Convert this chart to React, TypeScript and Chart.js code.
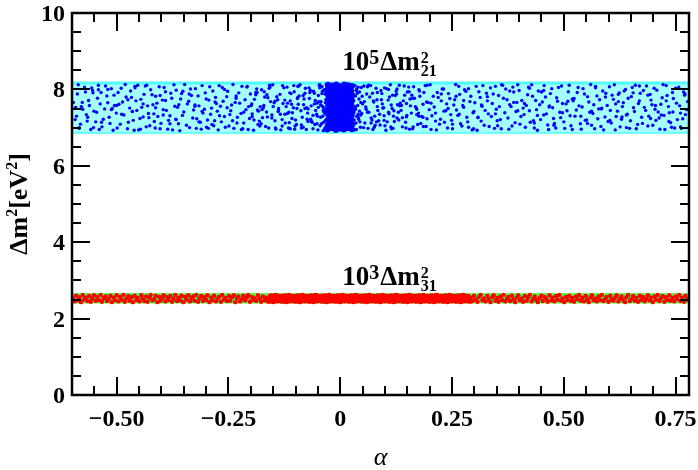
import React, { useEffect, useRef } from 'react';
import { Chart, registerables } from 'chart.js';
Chart.register(...registerables);

const X_MIN = -0.6;
const X_MAX = 0.78;
const Y_MIN = 0;
const Y_MAX = 10;

const xMajorTicks = [-0.5, -0.25, 0, 0.25, 0.5, 0.75];
const xTickLabels = ['−0.50', '−0.25', '0', '0.25', '0.50', '0.75'];
const xMinorTicks = [-0.55, -0.45, -0.4, -0.35, -0.3, -0.2, -0.15, -0.1, -0.05, 0.05, 0.1, 0.15, 0.2, 0.3, 0.35, 0.4, 0.45, 0.55, 0.6, 0.65, 0.7];
const yMajorTicks = [0, 2, 4, 6, 8, 10];
const yTickLabels = ['0', '2', '4', '6', '8', '10'];
const yMinorTicks = [0.5, 1, 1.5, 2.5, 3, 3.5, 4.5, 5, 5.5, 6.5, 7, 7.5, 8.5, 9, 9.5];

// allowed ranges (bands)
const band21 = [6.88, 8.17];
const band31 = [2.41, 2.65];

// 10^5 Δm²21 scatter (alpha, value)
const blueA: number[][] = [
[-0.593,7.21],[-0.588,7.88],[-0.584,6.98],[-0.579,7.55],[-0.572,8.06],[-0.568,7.34],[-0.563,7.71],[-0.558,6.95],[-0.554,7.97],[-0.551,7.43],
[-0.547,7.15],[-0.541,8.11],[-0.537,7.62],[-0.533,7.02],[-0.527,7.49],[-0.522,7.83],[-0.517,7.27],[-0.512,8.02],[-0.508,6.93],[-0.505,7.58],
[-0.501,7.38],[-0.497,7.92],[-0.492,7.09],[-0.487,7.67],[-0.481,8.13],[-0.476,6.97],[-0.471,7.51],[-0.467,7.79],[-0.463,7.19],[-0.459,8.04],
[-0.455,7.45],[-0.451,6.94],[-0.446,7.74],[-0.441,7.28],[-0.436,8.09],[-0.431,7.57],[-0.426,7.05],[-0.421,7.86],[-0.417,7.36],[-0.414,6.99],
[-0.410,7.64],[-0.405,8.07],[-0.401,7.11],[-0.396,7.47],[-0.391,7.94],[-0.386,6.96],[-0.381,7.31],[-0.377,7.77],[-0.372,8.12],[-0.368,7.22],
[-0.364,7.53],[-0.359,6.92],[-0.355,7.89],[-0.350,7.41],[-0.344,7.06],[-0.339,7.69],[-0.335,8.01],[-0.330,7.25],[-0.325,7.59],[-0.322,6.98],
[-0.318,7.83],[-0.313,7.14],[-0.309,8.10],[-0.304,7.48],[-0.299,7.01],[-0.294,7.72],[-0.290,7.35],[-0.285,7.96],[-0.281,7.18],[-0.277,7.63],
[-0.273,6.94],[-0.268,7.56],[-0.264,8.05],[-0.259,7.29],[-0.254,7.81],[-0.249,7.04],[-0.245,7.44],[-0.240,8.13],[-0.235,7.66],[-0.231,7.12],
[-0.227,7.91],[-0.222,7.37],[-0.218,6.97],[-0.213,7.73],[-0.208,8.08],[-0.203,7.24],[-0.199,7.58],[-0.194,6.93],[-0.189,7.86],[-0.185,7.46],
[-0.181,7.17],[-0.176,7.99],[-0.172,7.52],[-0.167,7.03],[-0.162,7.78],[-0.158,8.11],[-0.153,7.33],[-0.148,7.65],[-0.144,6.96],[-0.139,7.42],
[-0.135,7.87],[-0.130,7.21],[-0.126,8.04],[-0.121,7.55],[-0.116,6.99],[-0.112,7.70],[-0.107,7.39],[-0.103,7.94],[-0.098,7.08],[-0.094,7.61],
[-0.090,8.12],[-0.085,7.27],[-0.081,7.75],[-0.076,6.95],[-0.072,7.49],[-0.067,7.98],[-0.063,7.14],[-0.058,7.62],[-0.053,7.35],[-0.049,7.84],
[-0.045,7.05],[-0.043,7.68],[-0.041,8.07],[-0.039,7.30],[-0.037,7.52],[-0.035,6.97],[-0.034,7.88],[-0.033,7.19],[-0.032,7.74],[-0.031,8.13],
[0.031,7.41],[0.032,6.94],[0.034,7.83],[0.035,7.12],[0.037,8.02],[0.039,7.58],[0.041,7.26],[0.043,7.93],[0.045,7.01],[0.046,7.66],
[0.048,7.37],[0.053,8.09],[0.057,7.54],[0.062,6.98],[0.066,7.80],[0.071,7.20],[0.075,7.67],[0.080,8.03],[0.084,7.45],[0.089,7.07],
[0.093,7.89],[0.098,7.31],[0.102,6.93],[0.107,7.72],[0.112,8.12],[0.116,7.50],[0.121,7.16],[0.125,7.96],[0.130,7.40],[0.134,7.64],
[0.139,7.02],[0.144,7.85],[0.148,7.28],[0.153,8.06],[0.157,7.57],[0.162,6.97],[0.166,7.77],[0.171,7.34],[0.176,7.99],[0.180,7.11],
[0.185,7.61],[0.190,8.10],[0.194,7.23],[0.199,7.47],[0.203,6.95],[0.208,7.82],[0.213,7.38],[0.217,7.92],[0.222,7.09],[0.226,7.70],
[0.231,8.01],[0.236,7.44],[0.240,6.99],[0.245,7.76],[0.249,7.19],[0.254,7.59],[0.258,8.13],[0.263,7.32],[0.267,7.87],[0.272,7.04],
[0.276,7.53],[0.281,7.95],[0.285,7.15],[0.290,7.68],[0.295,6.94],[0.299,7.42],[0.304,8.08],[0.308,7.26],[0.313,7.79],[0.317,7.56],
[0.322,7.06],[0.327,7.90],[0.331,7.36],[0.336,8.04],[0.340,7.63],[0.345,6.98],[0.349,7.48],[0.354,7.84],[0.358,7.21],[0.363,8.11],
[0.368,7.39],[0.373,7.73],[0.377,6.96],[0.382,7.55],[0.386,8.06],[0.391,7.13],[0.395,7.66],[0.400,7.97],[0.404,7.29],[0.409,7.51],
[0.414,7.01],[0.419,7.86],[0.423,7.44],[0.428,8.12],[0.432,7.18],[0.437,7.71],[0.441,6.93],[0.446,7.60],[0.450,7.93],[0.455,7.33],
[0.459,7.80],[0.464,7.07],[0.468,7.57],[0.473,8.02],[0.477,7.24],[0.482,6.99],[0.486,7.69],[0.491,7.40],[0.495,8.09],[0.500,7.15],
[0.505,7.62],[0.510,7.94],[0.514,7.31],[0.519,6.95],[0.523,7.76],[0.528,7.46],[0.532,8.05],[0.537,7.10],[0.541,7.54],[0.546,7.88],
[0.551,7.20],[0.556,7.67],[0.560,8.13],[0.565,7.37],[0.569,6.97],[0.574,7.83],[0.578,7.49],[0.583,7.03],[0.587,7.96],[0.592,7.28],
[0.597,7.58],[0.602,8.07],[0.606,7.12],[0.611,7.74],[0.615,6.94],[0.620,7.43],[0.624,7.91],[0.629,7.22],[0.633,7.65],[0.638,8.00],
[0.642,7.35],[0.647,6.98],[0.651,7.81],[0.656,7.52],[0.660,8.11],[0.665,7.08],[0.669,7.70],[0.674,7.27],[0.678,7.97],[0.683,7.45],
[0.688,7.04],[0.693,7.87],[0.697,7.60],[0.702,8.03],[0.706,7.19],[0.711,7.41],[0.715,6.96],[0.720,7.78],[0.724,7.32],[0.729,8.10],
[0.734,7.55],[0.739,7.13],[0.743,7.92],[0.748,6.99],[0.752,7.64],[0.757,8.06],[0.761,7.38],[0.766,7.23],[0.770,7.85],[0.775,7.47],
];
const blueB: number[][] = [
[-0.597,7.66],[-0.590,7.30],[-0.586,8.12],[-0.581,7.09],[-0.576,7.48],[-0.570,7.93],[-0.566,7.17],[-0.561,7.58],[-0.556,8.04],[-0.552,7.00],
[-0.545,7.40],[-0.543,7.77],[-0.539,6.95],[-0.535,7.92],[-0.530,7.22],[-0.525,8.09],[-0.520,7.65],[-0.515,7.11],[-0.510,7.50],[-0.506,7.85],
[-0.499,6.99],[-0.495,7.61],[-0.490,8.03],[-0.484,7.33],[-0.479,7.80],[-0.474,7.14],[-0.469,7.96],[-0.465,7.42],[-0.461,6.93],[-0.457,7.70],
[-0.453,8.11],[-0.448,7.24],[-0.444,7.53],[-0.439,7.87],[-0.434,7.02],[-0.429,7.37],[-0.424,7.99],[-0.419,7.60],[-0.416,7.16],[-0.413,7.82],
[-0.408,7.29],[-0.403,6.97],[-0.398,7.72],[-0.394,8.05],[-0.389,7.45],[-0.384,7.19],[-0.379,7.90],[-0.375,6.94],[-0.370,7.56],[-0.367,7.98],
[-0.362,7.10],[-0.357,7.75],[-0.353,7.32],[-0.348,8.13],[-0.342,7.62],[-0.337,7.00],[-0.333,7.84],[-0.328,7.46],[-0.324,8.02],[-0.321,7.23],
[-0.316,7.57],[-0.311,6.96],[-0.307,7.38],[-0.302,7.91],[-0.297,7.20],[-0.292,8.07],[-0.288,7.51],[-0.283,7.05],[-0.279,7.79],[-0.275,7.43],
[-0.271,8.10],[-0.266,7.15],[-0.262,7.69],[-0.257,7.01],[-0.252,7.95],[-0.247,7.34],[-0.243,7.59],[-0.238,6.98],[-0.233,7.83],[-0.230,7.27],
[-0.225,7.64],[-0.220,8.08],[-0.216,7.12],[-0.211,7.47],[-0.206,6.95],[-0.201,7.88],[-0.197,7.36],[-0.192,7.74],[-0.187,8.01],[-0.184,7.08],
[-0.179,7.55],[-0.174,7.26],[-0.170,7.94],[-0.165,7.41],[-0.160,6.99],[-0.156,7.68],[-0.151,8.12],[-0.146,7.18],[-0.142,7.81],[-0.138,7.50],
[-0.133,6.94],[-0.128,7.63],[-0.124,7.35],[-0.119,8.06],[-0.114,7.13],[-0.110,7.89],[-0.105,7.52],[-0.101,7.04],[-0.096,7.76],[-0.093,8.09],
[-0.088,7.44],[-0.083,7.01],[-0.079,7.90],[-0.074,7.22],[-0.070,8.04],[-0.065,7.57],[-0.061,6.97],[-0.056,7.71],[-0.051,7.30],[-0.047,8.11],
[-0.044,7.60],[-0.042,7.10],[-0.040,7.95],[-0.038,6.92],[-0.036,7.40],[-0.034,8.00],[-0.033,7.65],[-0.032,7.03],[-0.031,7.45],[-0.030,7.85],
[0.030,7.70],[0.031,7.20],[0.033,8.10],[0.034,7.48],[0.036,6.95],[0.038,7.90],[0.040,7.35],[0.042,7.75],[0.044,7.15],[0.047,8.05],
[0.050,7.62],[0.055,7.12],[0.059,7.88],[0.064,7.40],[0.068,8.10],[0.073,6.95],[0.077,7.30],[0.082,7.73],[0.086,7.18],[0.091,7.97],
[0.095,7.51],[0.100,7.05],[0.104,8.02],[0.109,7.36],[0.114,7.59],[0.118,6.98],[0.123,7.84],[0.127,7.25],[0.132,8.11],[0.136,7.45],
[0.141,7.70],[0.146,7.14],[0.150,7.93],[0.155,6.96],[0.159,7.38],[0.164,8.07],[0.168,7.55],[0.173,7.08],[0.178,7.82],[0.182,7.29],
[0.187,7.92],[0.192,7.03],[0.196,7.66],[0.201,8.12],[0.205,7.31],[0.210,7.54],[0.215,6.94],[0.219,7.79],[0.224,7.22],[0.228,8.01],
[0.233,7.14],[0.238,7.62],[0.242,7.89],[0.247,7.34],[0.251,6.97],[0.256,7.73],[0.260,7.46],[0.265,8.08],[0.269,7.10],[0.274,7.58],
[0.278,7.99],[0.283,7.27],[0.287,7.01],[0.292,7.82],[0.297,7.39],[0.301,7.65],[0.306,6.93],[0.310,7.94],[0.315,7.17],[0.319,8.10],
[0.324,7.45],[0.329,7.70],[0.333,7.03],[0.338,7.29],[0.342,7.88],[0.347,8.08],[0.351,7.18],[0.356,7.55],[0.360,6.97],[0.365,7.77],
[0.370,8.01],[0.375,7.25],[0.379,7.60],[0.384,7.04],[0.388,7.93],[0.393,7.42],[0.397,8.12],[0.402,7.09],[0.406,7.71],[0.411,7.34],
[0.416,7.58],[0.421,8.06],[0.425,7.14],[0.430,7.82],[0.434,6.99],[0.439,7.47],[0.443,7.96],[0.448,7.21],[0.452,7.67],[0.456,8.10],
[0.461,7.36],[0.466,6.95],[0.470,7.89],[0.475,7.52],[0.479,7.11],[0.484,7.78],[0.488,8.05],[0.493,7.26],[0.497,7.63],[0.502,6.98],
[0.507,7.44],[0.512,8.11],[0.516,7.05],[0.521,7.70],[0.525,7.30],[0.530,7.92],[0.534,7.57],[0.539,6.96],[0.543,8.02],[0.548,7.19],
[0.553,7.81],[0.558,7.40],[0.562,7.06],[0.567,7.60],[0.571,8.08],[0.576,7.23],[0.580,7.73],[0.585,7.51],[0.589,6.94],[0.594,7.90],
[0.599,7.16],[0.604,7.45],[0.608,7.85],[0.613,8.12],[0.617,7.29],[0.622,7.68],[0.626,7.02],[0.631,7.55],[0.635,7.96],[0.640,7.33],
[0.644,7.77],[0.649,7.18],[0.653,8.05],[0.658,7.42],[0.662,6.97],[0.667,7.63],[0.671,7.90],[0.676,7.11],[0.680,7.53],[0.685,8.09],
[0.690,7.30],[0.695,7.72],[0.699,7.06],[0.704,7.48],[0.708,7.98],[0.713,7.25],[0.717,7.61],[0.722,8.13],[0.726,6.95],[0.731,7.84],
[0.736,7.39],[0.741,7.01],[0.745,7.76],[0.750,8.03],[0.754,7.21],[0.759,7.57],[0.763,6.98],[0.768,7.93],[0.772,7.34],[0.777,7.68],
];
const blueC: number[][] = [
[0.412,7.63],[-0.287,7.08],[0.655,7.91],[-0.512,7.47],[0.127,8.01],[-0.066,7.22],[0.298,6.97],[-0.403,7.84],[0.538,7.30],[-0.171,7.58],
[0.069,7.12],[-0.459,8.08],[0.744,7.41],[-0.233,7.77],[0.186,7.03],[-0.577,7.66],[0.361,8.12],[-0.118,7.37],[0.603,7.19],[-0.352,7.95],
[0.241,7.50],[-0.041,7.89],[0.478,7.06],[-0.197,7.29],[0.092,7.73],[-0.534,7.14],[0.705,7.58],[-0.309,7.42],[0.154,7.94],[-0.087,6.99],
[0.329,7.81],[-0.428,7.26],[0.571,8.04],[-0.146,7.69],[0.046,7.33],[-0.381,7.10],[0.688,7.85],[-0.259,8.00],[0.213,7.17],[-0.553,7.91],
[0.397,7.44],[-0.104,8.10],[0.630,7.28],[-0.325,7.56],[0.108,7.40],[-0.052,7.64],[0.455,7.97],[-0.221,6.95],[0.276,7.71],[-0.489,7.35],
[0.761,7.02],[-0.164,7.86],[0.171,7.48],[-0.072,7.16],[0.347,7.36],[-0.441,7.62],[0.519,7.75],[-0.270,7.31],[0.061,8.07],[-0.592,7.53],
[0.584,7.49],[-0.130,7.04],[0.226,7.88],[-0.367,7.21],[0.729,7.70],[-0.038,7.45],[0.139,7.26],[-0.209,8.06],[0.434,7.12],[-0.475,7.73],
[0.316,7.59],[-0.095,7.79],[0.669,8.09],[-0.295,6.98],[0.083,7.55],[-0.520,8.00],[0.497,7.39],[-0.183,7.43],[0.203,7.64],[-0.057,7.08],
[0.379,7.96],[-0.413,7.52],[0.616,7.62],[-0.241,7.18],[0.117,7.85],[-0.565,7.27],[0.266,7.35],[-0.109,7.61],[0.553,7.11],[-0.338,7.88],
[0.036,7.97],[-0.153,7.25],[0.718,7.33],[-0.447,6.96],[0.162,7.77],[-0.079,7.50],[0.423,8.03],[-0.280,7.67],[0.251,7.09],[-0.500,7.58],
[0.640,7.00],[-0.189,7.92],[0.098,7.19],[-0.046,8.04],[0.308,7.27],[-0.391,7.71],[0.467,7.54],[-0.138,7.45],[0.194,8.11],[-0.061,7.32],
[0.593,7.80],[-0.316,7.15],[0.054,7.68],[-0.541,7.99],[0.352,7.05],[-0.216,7.40],[0.771,7.88],[-0.100,7.20],[0.133,7.57],[-0.465,7.42],
[0.287,8.02],[-0.177,7.10],[0.509,7.69],[-0.083,7.84],[0.076,7.01],[-0.361,7.60],[0.694,7.24],[-0.253,7.52],[0.232,7.43],[-0.124,7.72],
[0.441,7.32],[-0.584,7.00],[0.176,7.30],[-0.049,7.53],[0.388,7.66],[-0.433,8.11],[0.562,7.43],[-0.159,8.03],[0.113,7.02],[-0.300,7.75],
[0.041,7.22],[-0.205,7.55],[0.735,7.16],[-0.068,7.92],[0.259,7.82],[-0.396,7.33],[0.622,7.87],[-0.112,6.97],[0.148,7.63],[-0.037,7.14],
];
const blueMid: number[][] = [
[-0.198,7.62],[-0.193,7.20],[-0.186,7.92],[-0.180,7.04],[-0.175,7.47],[-0.169,7.80],[-0.163,7.28],[-0.157,8.06],[-0.150,7.55],[-0.145,6.99],
[-0.140,7.73],[-0.134,7.35],[-0.129,8.10],[-0.123,7.12],[-0.118,7.64],[-0.113,7.91],[-0.108,7.24],[-0.102,6.96],[-0.097,7.50],[-0.092,7.83],
[-0.087,7.07],[-0.082,7.60],[-0.078,8.03],[-0.073,7.38],[-0.069,7.76],[-0.064,7.16],[-0.060,7.95],[-0.055,7.45],[-0.050,6.94],[-0.048,7.68],
[-0.115,7.40],[-0.095,8.08],[-0.075,7.52],[-0.058,7.90],[-0.052,7.10],[-0.046,8.12],[-0.044,7.27],[-0.040,7.56],[-0.037,7.98],[-0.034,7.36],
[0.034,7.55],[0.037,7.29],[0.040,8.06],[0.043,7.43],[0.049,7.82],[0.052,7.00],[0.058,7.48],[0.063,8.11],[0.069,7.25],[0.074,7.70],
[0.078,7.06],[0.083,7.92],[0.088,7.35],[0.094,7.62],[0.099,8.04],[0.105,7.15],[0.110,7.80],[0.115,6.97],[0.120,7.44],[0.126,7.88],
[0.131,7.20],[0.137,7.58],[0.143,8.09],[0.149,7.32],[0.156,7.75],[0.163,7.02],[0.170,7.51],[0.177,7.96],[0.185,7.27],[0.193,7.67],
[0.061,7.40],[0.072,7.90],[0.081,7.15],[0.097,7.52],[0.108,8.00],[0.119,7.30],[0.128,7.60],[0.147,6.99],[0.160,7.85],[0.175,7.38],
];
const blueCore: number[][] = [
[-0.029,6.95],[-0.027,7.08],[-0.028,7.20],[-0.026,7.33],[-0.029,7.45],[-0.027,7.57],[-0.028,7.70],[-0.026,7.82],[-0.029,7.94],[-0.027,8.06],[-0.028,8.12],
[-0.019,6.98],[-0.018,7.10],[-0.020,7.23],[-0.019,7.35],[-0.018,7.48],[-0.020,7.60],[-0.019,7.72],[-0.018,7.85],[-0.020,7.97],[-0.019,8.10],
[-0.010,6.94],[-0.009,7.06],[-0.011,7.18],[-0.010,7.30],[-0.009,7.42],[-0.011,7.55],[-0.010,7.67],[-0.009,7.79],[-0.011,7.91],[-0.010,8.03],[-0.009,8.13],
[-0.001,6.97],[0.000,7.09],[-0.002,7.21],[0.001,7.34],[-0.001,7.46],[0.000,7.58],[-0.002,7.71],[0.001,7.83],[-0.001,7.95],[0.000,8.08],
[0.008,6.95],[0.009,7.07],[0.007,7.19],[0.008,7.31],[0.009,7.44],[0.007,7.56],[0.008,7.68],[0.009,7.80],[0.007,7.92],[0.008,8.05],[0.009,8.13],
[0.017,6.98],[0.018,7.11],[0.016,7.23],[0.017,7.36],[0.018,7.49],[0.016,7.61],[0.017,7.74],[0.018,7.87],[0.016,8.00],[0.017,8.11],
[0.026,6.96],[0.027,7.08],[0.025,7.21],[0.026,7.33],[0.027,7.46],[0.025,7.59],[0.026,7.71],[0.027,7.84],[0.025,7.96],[0.026,8.09],
];

// 10^3 Δm²31 scatter (alpha, value)
const redSide: number[][] = [
[-0.598,2.52],[-0.594,2.45],[-0.591,2.60],[-0.587,2.48],[-0.584,2.56],[-0.580,2.43],[-0.576,2.62],[-0.573,2.50],[-0.569,2.55],[-0.565,2.46],
[-0.562,2.59],[-0.558,2.44],[-0.555,2.53],[-0.551,2.61],[-0.547,2.47],[-0.544,2.57],[-0.540,2.49],[-0.536,2.62],[-0.533,2.44],[-0.529,2.54],
[-0.525,2.58],[-0.522,2.46],[-0.518,2.51],[-0.514,2.60],[-0.511,2.43],[-0.507,2.55],[-0.504,2.48],[-0.500,2.61],[-0.496,2.45],[-0.493,2.57],
[-0.489,2.50],[-0.485,2.62],[-0.482,2.44],[-0.478,2.53],[-0.474,2.59],[-0.471,2.47],[-0.467,2.56],[-0.464,2.43],[-0.460,2.60],[-0.456,2.49],
[-0.453,2.54],[-0.449,2.45],[-0.445,2.61],[-0.442,2.52],[-0.438,2.46],[-0.434,2.58],[-0.431,2.44],[-0.427,2.55],[-0.424,2.62],[-0.420,2.48],
[-0.416,2.51],[-0.413,2.60],[-0.409,2.43],[-0.405,2.57],[-0.402,2.47],[-0.398,2.53],[-0.395,2.61],[-0.391,2.45],[-0.387,2.56],[-0.384,2.49],
[-0.380,2.59],[-0.376,2.44],[-0.373,2.52],[-0.369,2.62],[-0.365,2.46],[-0.362,2.55],[-0.358,2.48],[-0.355,2.60],[-0.351,2.43],[-0.347,2.57],
[-0.344,2.50],[-0.340,2.61],[-0.336,2.45],[-0.333,2.54],[-0.329,2.58],[-0.326,2.47],[-0.322,2.62],[-0.318,2.44],[-0.315,2.53],[-0.311,2.59],
[-0.307,2.46],[-0.304,2.56],[-0.300,2.49],[-0.297,2.61],[-0.293,2.43],[-0.289,2.55],[-0.286,2.48],[-0.282,2.60],[-0.278,2.45],[-0.275,2.52],
[-0.271,2.57],[-0.267,2.44],[-0.264,2.62],[-0.260,2.50],[-0.257,2.54],[-0.253,2.46],[-0.249,2.59],[-0.246,2.47],[-0.242,2.56],[-0.238,2.61],
[-0.235,2.43],[-0.231,2.53],[-0.228,2.58],[-0.224,2.45],[-0.220,2.51],[-0.217,2.60],[-0.213,2.48],[-0.209,2.55],[-0.206,2.62],[-0.202,2.44],
[-0.198,2.57],[-0.195,2.49],[-0.191,2.53],[-0.188,2.46],[-0.184,2.61],[-0.180,2.52],[-0.177,2.44],[-0.173,2.58],[-0.169,2.48],[-0.166,2.55],
[0.292,2.55],[0.296,2.46],[0.299,2.60],[0.303,2.50],[0.307,2.44],[0.310,2.57],[0.314,2.62],[0.318,2.48],[0.321,2.53],[0.325,2.45],
[0.329,2.59],[0.332,2.51],[0.336,2.43],[0.340,2.56],[0.343,2.61],[0.347,2.47],[0.351,2.54],[0.354,2.44],[0.358,2.58],[0.362,2.49],
[0.365,2.62],[0.369,2.45],[0.373,2.52],[0.376,2.57],[0.380,2.46],[0.384,2.60],[0.387,2.50],[0.391,2.43],[0.395,2.55],[0.398,2.61],
[0.402,2.48],[0.406,2.53],[0.409,2.44],[0.413,2.59],[0.417,2.47],[0.420,2.56],[0.424,2.62],[0.428,2.45],[0.431,2.51],[0.435,2.58],
[0.439,2.49],[0.442,2.43],[0.446,2.54],[0.450,2.60],[0.453,2.46],[0.457,2.57],[0.461,2.52],[0.464,2.44],[0.468,2.61],[0.472,2.48],
[0.475,2.55],[0.479,2.45],[0.483,2.59],[0.486,2.50],[0.490,2.62],[0.494,2.47],[0.497,2.53],[0.501,2.43],[0.505,2.57],[0.508,2.49],
[0.512,2.60],[0.516,2.46],[0.519,2.54],[0.523,2.44],[0.527,2.58],[0.530,2.51],[0.534,2.62],[0.538,2.47],[0.541,2.55],[0.545,2.45],
[0.549,2.59],[0.552,2.50],[0.556,2.43],[0.560,2.56],[0.563,2.61],[0.567,2.48],[0.571,2.53],[0.574,2.45],[0.578,2.58],[0.582,2.49],
[0.585,2.62],[0.589,2.46],[0.593,2.52],[0.596,2.57],[0.600,2.44],[0.604,2.60],[0.607,2.50],[0.611,2.47],[0.615,2.55],[0.618,2.61],
[0.622,2.45],[0.626,2.53],[0.629,2.58],[0.633,2.48],[0.637,2.43],[0.640,2.56],[0.644,2.62],[0.648,2.46],[0.651,2.51],[0.655,2.59],
[0.659,2.47],[0.662,2.54],[0.666,2.44],[0.670,2.60],[0.673,2.49],[0.677,2.57],[0.681,2.45],[0.684,2.52],[0.688,2.61],[0.692,2.48],
[0.695,2.55],[0.699,2.43],[0.703,2.58],[0.706,2.50],[0.710,2.62],[0.714,2.46],[0.717,2.53],[0.721,2.59],[0.725,2.44],[0.728,2.56],
[0.732,2.49],[0.736,2.61],[0.739,2.47],[0.743,2.54],[0.747,2.45],[0.750,2.58],[0.754,2.51],[0.758,2.62],[0.761,2.46],[0.765,2.55],
[0.769,2.44],[0.772,2.59],[0.776,2.50],
];
const redCore: number[][] = [
[-0.160,2.47],[-0.150,2.46],[-0.140,2.48],[-0.130,2.47],[-0.120,2.46],[-0.110,2.48],[-0.100,2.47],[-0.090,2.46],[-0.080,2.48],[-0.070,2.47],
[-0.060,2.46],[-0.050,2.48],[-0.040,2.47],[-0.030,2.46],[-0.020,2.48],[-0.010,2.47],[0.000,2.46],[0.010,2.48],[0.020,2.47],[0.030,2.46],
[0.040,2.48],[0.050,2.47],[0.060,2.46],[0.070,2.48],[0.080,2.47],[0.090,2.46],[0.100,2.48],[0.110,2.47],[0.120,2.46],[0.130,2.48],
[0.140,2.47],[0.150,2.46],[0.160,2.48],[0.170,2.47],[0.180,2.46],[0.190,2.48],[0.200,2.47],[0.210,2.46],[0.220,2.48],[0.230,2.47],
[0.240,2.46],[0.250,2.48],[0.260,2.47],[0.270,2.46],[0.280,2.48],[0.290,2.47],
[-0.155,2.58],[-0.145,2.59],[-0.135,2.57],[-0.125,2.58],[-0.115,2.59],[-0.105,2.57],[-0.095,2.58],[-0.085,2.59],[-0.075,2.57],[-0.065,2.58],
[-0.055,2.59],[-0.045,2.57],[-0.035,2.58],[-0.025,2.59],[-0.015,2.57],[-0.005,2.58],[0.005,2.59],[0.015,2.57],[0.025,2.58],[0.035,2.59],
[0.045,2.57],[0.055,2.58],[0.065,2.59],[0.075,2.57],[0.085,2.58],[0.095,2.59],[0.105,2.57],[0.115,2.58],[0.125,2.59],[0.135,2.57],
[0.145,2.58],[0.155,2.59],[0.165,2.57],[0.175,2.58],[0.185,2.59],[0.195,2.57],[0.205,2.58],[0.215,2.59],[0.225,2.57],[0.235,2.58],
[0.245,2.59],[0.255,2.57],[0.265,2.58],[0.275,2.59],[0.285,2.57],
];

const toXY = (pts: number[][]) => pts.map(([x, y]) => ({ x, y }));
const FONT = '"Liberation Serif", "Times New Roman", serif';

function drawMassLabel(ctx: CanvasRenderingContext2D, cx: number, base: number, exp: string, sub: string) {
  const big = `bold 27px ${FONT}`;
  const mid = `bold 20px ${FONT}`;
  const small = `bold 16px ${FONT}`;
  ctx.font = big; const w10 = ctx.measureText('10').width; const wDm = ctx.measureText('Δm').width;
  ctx.font = mid; const wExp = ctx.measureText(exp).width;
  ctx.font = small; const wS = Math.max(ctx.measureText('2').width, ctx.measureText(sub).width);
  const total = w10 + wExp + 1 + wDm + 1 + wS;
  let x = cx - total / 2;
  ctx.textAlign = 'left'; ctx.textBaseline = 'alphabetic';
  ctx.font = big; ctx.fillText('10', x, base); x += w10;
  ctx.font = mid; ctx.fillText(exp, x, base - 6); x += wExp + 1;
  ctx.font = big; ctx.fillText('Δm', x, base); x += wDm + 1;
  ctx.font = small; ctx.fillText('2', x, base - 7); ctx.fillText(sub, x, base + 6);
}

const framePlugin = {
  id: 'frameAndText',
  afterDraw(chart: any) {
    const { ctx, chartArea: ca, scales } = chart;
    const xs = scales.x, ys = scales.y;
    ctx.save();
    ctx.strokeStyle = '#000';
    ctx.fillStyle = '#000';
    ctx.lineWidth = 2;
    const MAJ = 18, MIN = 9;
    const vtick = (px: number, len: number) => {
      ctx.beginPath();
      ctx.moveTo(px, ca.bottom); ctx.lineTo(px, ca.bottom - len);
      ctx.moveTo(px, ca.top); ctx.lineTo(px, ca.top + len);
      ctx.stroke();
    };
    const htick = (py: number, len: number) => {
      ctx.beginPath();
      ctx.moveTo(ca.left, py); ctx.lineTo(ca.left + len, py);
      ctx.moveTo(ca.right, py); ctx.lineTo(ca.right - len, py);
      ctx.stroke();
    };
    xMinorTicks.forEach(v => vtick(Math.round(xs.getPixelForValue(v)), MIN));
    xMajorTicks.forEach(v => vtick(Math.round(xs.getPixelForValue(v)), MAJ));
    yMinorTicks.forEach(v => htick(Math.round(ys.getPixelForValue(v)), MIN));
    yMajorTicks.forEach(v => htick(Math.round(ys.getPixelForValue(v)), MAJ));
    ctx.lineWidth = 2.5;
    ctx.strokeRect(ca.left, ca.top, ca.right - ca.left, ca.bottom - ca.top);

    // tick labels
    ctx.font = `bold 24px ${FONT}`;
    ctx.textBaseline = 'alphabetic';
    ctx.textAlign = 'center';
    xMajorTicks.forEach((v, i) => ctx.fillText(xTickLabels[i], xs.getPixelForValue(v), ca.bottom + 31));
    ctx.textAlign = 'right';
    yMajorTicks.forEach((v, i) => ctx.fillText(yTickLabels[i], ca.left - 7, ys.getPixelForValue(v) + 8));

    // x title
    ctx.textAlign = 'center';
    ctx.font = `italic 26px ${FONT}`;
    ctx.fillText('α', (ca.left + ca.right) / 2, ca.bottom + 70);

    // y title
    ctx.save();
    ctx.translate(27, (ca.top + ca.bottom) / 2);
    ctx.rotate(-Math.PI / 2);
    const big = `bold 26px ${FONT}`, sm = `bold 16px ${FONT}`;
    const parts: [string, string, number][] = [['Δm', big, 0], ['2', sm, -10], ['[eV', big, 0], ['2', sm, -10], [']', big, 0]];
    let tw = 0;
    parts.forEach(([t, f]) => { ctx.font = f; tw += ctx.measureText(t).width; });
    let px = -tw / 2;
    ctx.textAlign = 'left';
    parts.forEach(([t, f, dy]) => { ctx.font = f; ctx.fillText(t, px, dy); px += ctx.measureText(t).width; });
    ctx.restore();

    // band labels
    drawMassLabel(ctx, xs.getPixelForValue(0.11), ys.getPixelForValue(8.52), '5', '21');
    drawMassLabel(ctx, xs.getPixelForValue(0.11), ys.getPixelForValue(2.87), '3', '31');
    ctx.restore();
  },
};

export default function App() {
  const ref = useRef<HTMLCanvasElement>(null);
  useEffect(() => {
    if (!ref.current) return;
    const bandLine = (y: number) => [{ x: X_MIN, y }, { x: X_MAX, y }];
    const chart = new Chart(ref.current, {
      type: 'scatter',
      data: {
        datasets: [
          { data: toXY(blueA.concat(blueB, blueC, blueMid)), backgroundColor: '#0000ff', pointRadius: 1.7, pointBorderWidth: 0, order: 0 },
          { data: toXY(blueCore), backgroundColor: '#0000ff', pointRadius: 3, pointBorderWidth: 0, order: 0 },
          { data: toXY(redSide), backgroundColor: '#ff0000', pointRadius: 2.2, pointBorderWidth: 0, order: 0 },
          { data: toXY(redCore), backgroundColor: '#ff0000', pointRadius: 3.2, pointBorderWidth: 0, order: 0 },
          { type: 'line', data: bandLine(band21[1]), showLine: true, fill: '+1', backgroundColor: 'rgb(165,255,255)', borderColor: 'rgb(80,255,255)', borderWidth: 3, pointRadius: 0, order: 10 } as any,
          { type: 'line', data: bandLine(band21[0]), showLine: true, fill: false, borderColor: 'rgb(80,255,255)', borderWidth: 3, pointRadius: 0, order: 10 } as any,
          { type: 'line', data: bandLine(band31[1]), showLine: true, fill: '+1', backgroundColor: 'rgb(70,250,50)', borderColor: 'rgb(70,250,50)', borderWidth: 1, pointRadius: 0, order: 10 } as any,
          { type: 'line', data: bandLine(band31[0]), showLine: true, fill: false, borderColor: 'rgb(70,250,50)', borderWidth: 1, pointRadius: 0, order: 10 } as any,
        ],
      },
      options: {
        responsive: false,
        animation: false,
        events: [],
        layout: { padding: { left: 72, top: 13, right: 9, bottom: 75 } },
        plugins: { legend: { display: false }, tooltip: { enabled: false } },
        scales: {
          x: { type: 'linear', min: X_MIN, max: X_MAX, display: false },
          y: { type: 'linear', min: Y_MIN, max: Y_MAX, display: false },
        },
      },
      plugins: [framePlugin],
    });
    return () => chart.destroy();
  }, []);
  return (
    <div style={{ position: 'fixed', left: 0, top: 0, width: 698, height: 470, background: '#fff' }}>
      <canvas ref={ref} width={698} height={470} />
    </div>
  );
}
